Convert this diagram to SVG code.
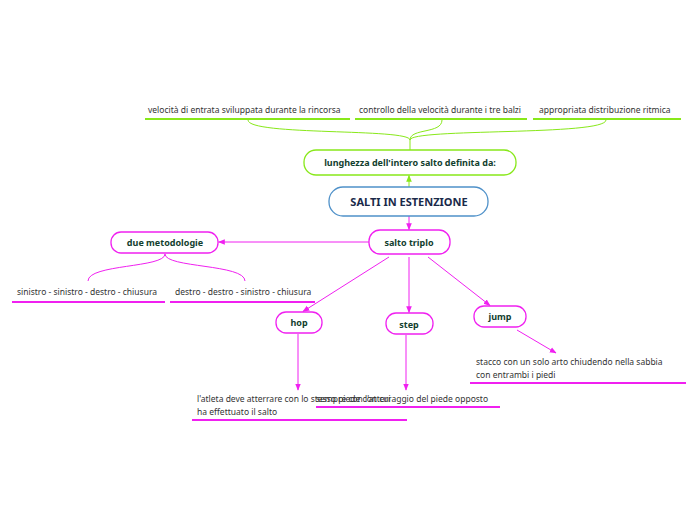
<svg xmlns="http://www.w3.org/2000/svg" width="696" height="520" viewBox="0 0 696 520">
<defs>
<style>
.node{fill:#fff;stroke-width:1.3}
.g{stroke:#88e81a}
.m{stroke:#f020f0}
.b{stroke:#4f91c9}
.lbl{font-family:"Noto Sans","Open Sans",sans-serif;font-weight:bold;font-size:9px;fill:#12402e;text-anchor:middle}
.main{font-family:"Noto Sans","Open Sans",sans-serif;font-weight:bold;font-size:11px;fill:#1a2a4a;text-anchor:middle}
.leaf{font-family:"Noto Sans","Open Sans",sans-serif;font-size:8.5px;fill:#333}
.ul{stroke-width:2;fill:none}
.conn{fill:none;stroke-width:1}
</style>
<marker id="am" viewBox="0 0 10 10" refX="9" refY="5" markerWidth="7" markerHeight="7" orient="auto"><path d="M0,1 L10,5 L0,9 z" fill="#f020f0"/></marker>
<marker id="ag" viewBox="0 0 10 10" refX="9" refY="5" markerWidth="7" markerHeight="7" orient="auto"><path d="M0,1 L10,5 L0,9 z" fill="#88e81a"/></marker>
</defs>
<rect width="696" height="520" fill="#fff"/>
<g id="connectors">
<path class="conn g" d="M409,187 L409,175.5" marker-end="url(#ag)"/>
<path class="conn g" d="M248,120 C248,136 410,128 410,140 M442,120 C442,134 410,128 410,140 M606,120 C606,136 410,128 410,140 M410,140 L410,150"/>
<path class="conn m" d="M409,216 L409,229.5" marker-end="url(#am)"/>
<path class="conn m" d="M369,242 L218.5,242" marker-end="url(#am)"/>
<path class="conn m" d="M165,254 C165,268 88,264 88,281 M165,254 C165,268 245,264 245,281"/>
<path class="conn m" d="M389,257 L303,311.5" marker-end="url(#am)"/>
<path class="conn m" d="M409,257 L409,312.5" marker-end="url(#am)"/>
<path class="conn m" d="M428,257 L490,305.5" marker-end="url(#am)"/>
<path class="conn m" d="M298,334 L298,390" marker-end="url(#am)"/>
<path class="conn m" d="M406,335 L406,390" marker-end="url(#am)"/>
<path class="conn m" d="M517,330 L556,353" marker-end="url(#am)"/>
</g>
<g id="n-top1"><text class="leaf" x="148" y="113">velocità di entrata sviluppata durante la rincorsa</text><line class="ul g" x1="145" y1="119" x2="350" y2="119"/></g>
<g id="n-top2"><text class="leaf" x="359" y="113">controllo della velocità durante i tre balzi</text><line class="ul g" x1="355" y1="119" x2="527" y2="119"/></g>
<g id="n-top3"><text class="leaf" x="539" y="113">appropriata distribuzione ritmica</text><line class="ul g" x1="533" y1="119" x2="681" y2="119"/></g>
<g id="n-lunghezza"><rect class="node g" x="304" y="150" width="212" height="25" rx="12"/><text class="lbl" x="410" y="166">lunghezza dell'intero salto definita da:</text></g>
<g id="n-main"><rect class="node b" x="329" y="187" width="159" height="29" rx="14"/><text class="main" x="409" y="206">SALTI IN ESTENZIONE</text></g>
<g id="n-salto"><rect class="node m" x="369" y="230" width="81" height="24" rx="11"/><text class="lbl" x="409" y="246">salto triplo</text></g>
<g id="n-due"><rect class="node m" x="111" y="232" width="107" height="21" rx="10"/><text class="lbl" x="165" y="246">due metodologie</text></g>
<g id="n-sin"><text class="leaf" x="17" y="295">sinistro - sinistro - destro - chiusura</text><line class="ul m" x1="12" y1="302" x2="165" y2="302"/></g>
<g id="n-des"><text class="leaf" x="175" y="295">destro - destro - sinistro - chiusura</text><line class="ul m" x1="170" y1="302" x2="315" y2="302"/></g>
<g id="n-hop"><rect class="node m" x="276" y="312" width="46" height="21" rx="10"/><text class="lbl" x="299" y="326">hop</text></g>
<g id="n-step"><rect class="node m" x="386" y="313" width="47" height="21" rx="10"/><text class="lbl" x="409" y="328">step</text></g>
<g id="n-jump"><rect class="node m" x="474" y="306" width="52" height="21" rx="10"/><text class="lbl" x="500" y="320">jump</text></g>
<g id="n-hoptext"><text class="leaf" x="197" y="402">l'atleta deve atterrare con lo stesso piede con cui</text><text class="leaf" x="197" y="415">ha effettuato il salto</text><line class="ul m" x1="192" y1="420" x2="407" y2="420"/></g>
<g id="n-steptext"><text class="leaf" x="316" y="402">sempre con l'atterraggio del piede opposto</text><line class="ul m" x1="316" y1="407" x2="500" y2="407"/></g>
<g id="n-jumptext"><text class="leaf" x="476" y="365">stacco con un solo arto chiudendo nella sabbia</text><text class="leaf" x="476" y="378">con entrambi i piedi</text><line class="ul m" x1="470" y1="383" x2="686" y2="383"/></g>
</svg>
